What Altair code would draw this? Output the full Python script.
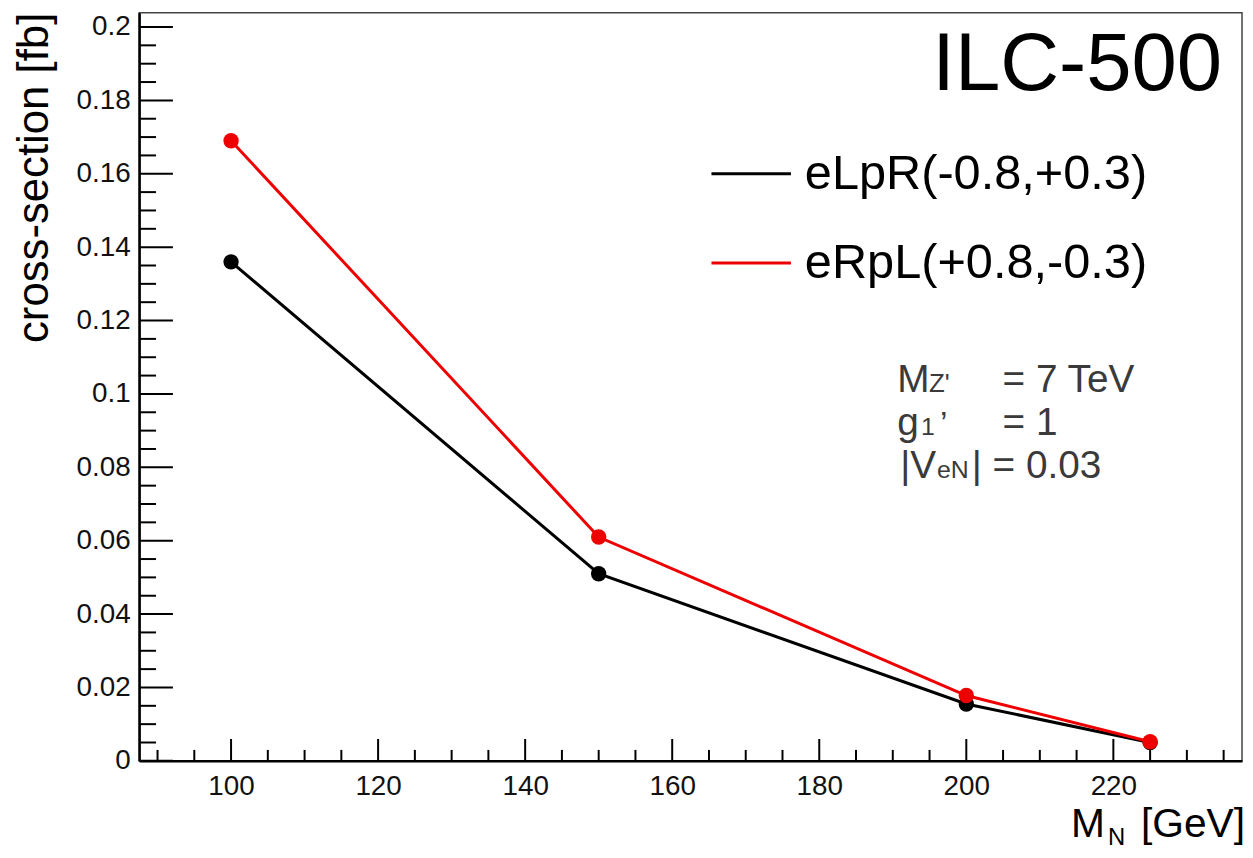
import altair as alt
import pandas as pd

# ---- data ----
mass = [100, 150, 200, 225]
xs_eLpR = [0.136, 0.051, 0.0155, 0.005]
xs_eRpL = [0.169, 0.061, 0.0178, 0.0052]
series_names = ["eLpR(-0.8,+0.3)", "eRpL(+0.8,-0.3)"]
series_colors = ["#000000", "#ee0000"]

x_major = [100, 120, 140, 160, 180, 200, 220]
x_minor = [90, 95, 105, 110, 115, 125, 130, 135, 145, 150, 155, 165, 170, 175,
           185, 190, 195, 205, 210, 215, 225, 230, 235]
y_major = [0, 0.02, 0.04, 0.06, 0.08, 0.1, 0.12, 0.14, 0.16, 0.18, 0.2]
y_minor = [0.005, 0.01, 0.015, 0.025, 0.03, 0.035, 0.045, 0.05, 0.055, 0.065, 0.07,
           0.075, 0.085, 0.09, 0.095, 0.105, 0.11, 0.115, 0.125, 0.13, 0.135,
           0.145, 0.15, 0.155, 0.165, 0.17, 0.175, 0.185, 0.19, 0.195]

W, H = 1110, 753
FONT = "Liberation Sans"

xscale = alt.Scale(domain=[87.5, 237.5], nice=False, zero=False)
yscale = alt.Scale(domain=[0, 0.2039], nice=False, zero=False)

X_AXIS = alt.Axis(values=x_major, tickSize=0, labelPadding=12, labelFontSize=28,
                  labelFont=FONT, labelColor="#111", domainColor="#000",
                  domainWidth=2.5, grid=False, labelFlush=False, title=None)
Y_AXIS = alt.Axis(values=y_major, tickSize=0, labelPadding=9, labelFontSize=28,
                  labelFont=FONT, labelColor="#111", domainColor="#000",
                  domainWidth=2.5, grid=False, format=".2~f", labelFlush=False,
                  title=None)

def X(field):
    return alt.X(field, scale=xscale, axis=X_AXIS, title=None)

def Y(field):
    return alt.Y(field, scale=yscale, axis=Y_AXIS, title=None)

df_black = pd.DataFrame({"m": mass, "xs": xs_eLpR})
df_red = pd.DataFrame({"m": mass, "xs": xs_eRpL})

def series_layers(df, color):
    base = alt.Chart(df)
    line = base.mark_line(color=color, strokeWidth=3, clip=False).encode(
        x=X("m:Q"), y=Y("xs:Q"))
    pts = base.mark_circle(color=color, size=240, opacity=1, clip=False).encode(
        x=X("m:Q"), y=Y("xs:Q"))
    return [line, pts]

def xticks(vals, length):
    return alt.Chart(pd.DataFrame({"v": vals})).mark_rule(color="#000", strokeWidth=2).encode(
        x=X("v:Q"), y=alt.value(H), y2=alt.value(H - length))

def yticks(vals, length):
    return alt.Chart(pd.DataFrame({"v": vals})).mark_rule(color="#000", strokeWidth=2).encode(
        y=Y("v:Q"), x=alt.value(0), x2=alt.value(length))

def txt(t, x, y, size, align="left", baseline="alphabetic", color="#000", angle=0):
    return alt.Chart(pd.DataFrame({"t": [t]})).mark_text(
        font=FONT, fontSize=size, align=align, baseline=baseline, color=color,
        angle=angle, clip=False).encode(text="t:N", x=alt.value(x), y=alt.value(y))

def legend_line(y, color):
    return alt.Chart(pd.DataFrame({"a": [0]})).mark_rule(color=color, strokeWidth=3).encode(
        x=alt.value(576), x2=alt.value(656), y=alt.value(y))

gray = "#3a3a3a"
layers = [xticks(x_major, 22), xticks(x_minor, 11),
          yticks(y_major, 34), yticks(y_minor, 17)]
layers += series_layers(df_black, series_colors[0])
layers += series_layers(df_red, series_colors[1])
layers += [
    txt("ILC-500", 1090, 78, 82, align="right"),
    legend_line(162, series_colors[0]),
    txt(series_names[0], 670, 162, 49, baseline="middle"),
    legend_line(252, series_colors[1]),
    txt(series_names[1], 670, 252, 49, baseline="middle"),
    # annotation
    txt("M", 763, 382, 39, color=gray),
    txt("Z'", 795, 382, 26, color=gray),
    txt("= 7 TeV", 869, 382, 39, color=gray),
    txt("g", 763, 425, 39, color=gray),
    txt("1", 787, 425, 25, color=gray),
    txt("\u2019", 806, 425, 34, color=gray),
    txt("= 1", 869, 425, 39, color=gray),
    txt("|V", 766, 468, 39, color=gray),
    txt("eN", 803, 468, 25, color=gray),
    txt("| = 0.03", 838, 468, 39, color=gray),
    # axis titles
    txt("cross-section [fb]", -92, 0, 44, align="right", angle=270),
    txt("M", 938, 830, 41),
    txt("N", 975, 838, 24),
    txt("[GeV]", 1113, 830, 41, align="right"),
]

chart = alt.layer(*layers).properties(
    width=W, height=H,
    autosize=alt.AutoSizeParams(type="none"),
    padding={"left": 132, "top": 2, "right": 3, "bottom": 86},
    background="white",
).configure_view(stroke="#444", strokeWidth=1.5)

chart.save("out.html", embed_options={"renderer": "svg", "actions": False})
